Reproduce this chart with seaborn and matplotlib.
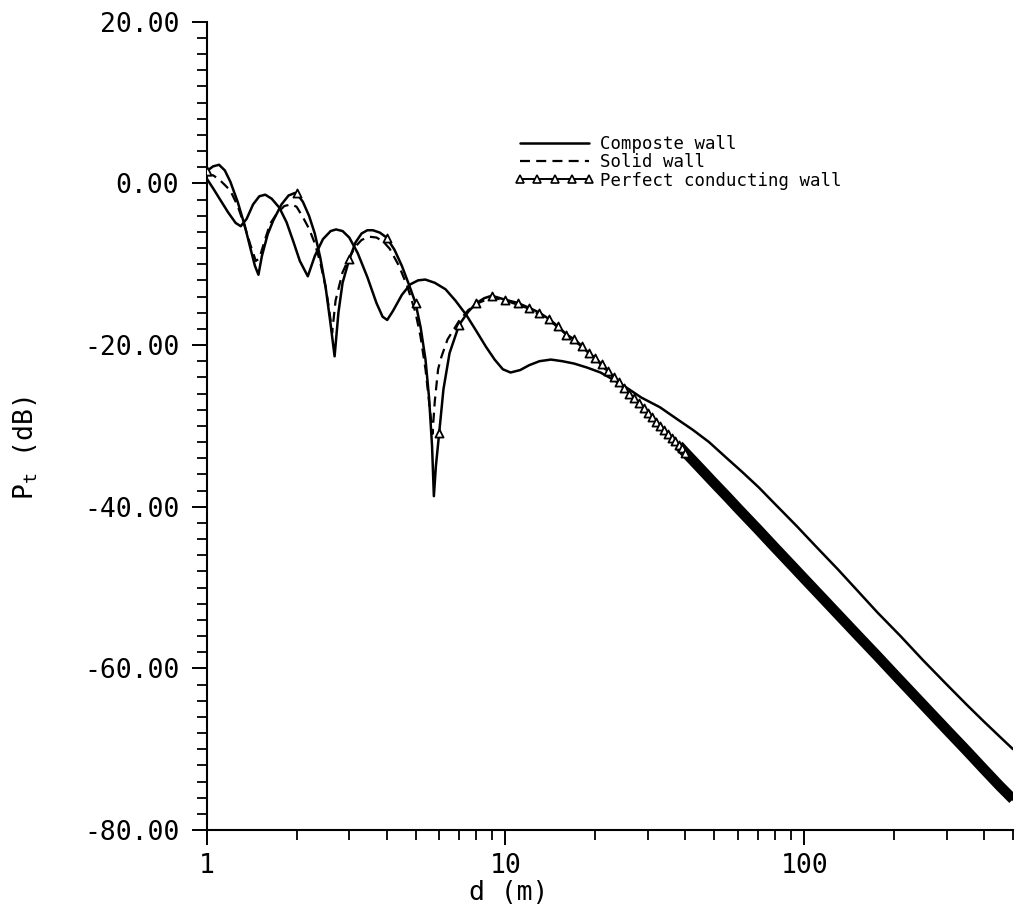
import numpy as np
import pandas as pd
import matplotlib
matplotlib.use("Agg")
import matplotlib.pyplot as plt
import seaborn as sns
from matplotlib.ticker import FixedLocator, FixedFormatter, MultipleLocator, NullFormatter, FuncFormatter
from matplotlib.lines import Line2D

# ---------------- data ----------------
composite_d = [1.00, 1.05, 1.10, 1.18, 1.25, 1.30, 1.36, 1.43, 1.50, 1.57, 1.65, 1.75, 1.85, 1.95,
               2.05, 2.18, 2.30, 2.45, 2.60, 2.71, 2.85, 3.00, 3.20, 3.45, 3.70, 3.88, 4.02, 4.20,
               4.50, 4.80, 5.10, 5.39, 5.80, 6.30, 6.80, 7.40, 8.00, 8.60, 9.20, 9.80, 10.4, 11.2,
               12.0, 13.0, 14.2, 15.5, 17.0, 18.8, 20.8, 23.0, 25.5, 28.5, 32.9, 38.0, 42.4, 48.0,
               54.7, 62.0, 70.4, 80.0, 94.4, 110, 130, 150, 176, 210, 250, 300, 350, 400, 450, 500]
composite_db = [0.6, -0.6, -1.8, -3.6, -4.9, -5.3, -4.4, -2.6, -1.6, -1.4, -1.9, -3.0, -4.8, -7.2,
                -9.6, -11.5, -9.0, -6.9, -5.9, -5.7, -5.9, -6.7, -8.6, -11.6, -14.8, -16.5, -16.9, -15.8,
                -13.8, -12.5, -12.0, -11.9, -12.3, -13.1, -14.5, -16.3, -18.3, -20.2, -21.8, -23.0, -23.4, -23.1,
                -22.5, -22.0, -21.8, -22.0, -22.3, -22.8, -23.4, -24.3, -25.3, -26.5, -27.7, -29.3, -30.5, -32.0,
                -33.9, -35.7, -37.6, -39.7, -42.4, -45.0, -47.8, -50.3, -53.1, -56.0, -59.0, -62.0, -64.5, -66.6, -68.4, -70.0]

solid_d = [1.00, 1.05, 1.10, 1.15, 1.20, 1.27, 1.34, 1.40, 1.46, 1.50, 1.56, 1.63, 1.72, 1.82, 1.92,
           2.00, 2.10, 2.20, 2.30, 2.40, 2.50, 2.57, 2.63, 2.70, 2.85, 3.00, 3.15, 3.30, 3.50, 3.70,
           3.90, 4.10, 4.40, 4.70, 5.00, 5.20, 5.40, 5.55, 5.70, 5.80, 5.95, 6.10, 6.40, 7.00, 7.50,
           8.0, 9.0, 10, 12, 14, 16, 18, 20, 22, 25, 30, 40, 50, 70, 100, 150, 200, 300, 500]
solid_db = [1.0, 1.0, 0.5, -0.2, -0.9, -2.8, -5.3, -7.6, -9.6, -9.3, -7.2, -5.0, -3.7, -2.8, -2.6,
            -2.9, -4.2, -5.6, -7.4, -9.8, -12.8, -15.6, -18.5, -14.5, -11.0, -9.2, -7.8, -7.0, -6.6, -6.7,
            -7.2, -8.1, -10.2, -12.8, -16.0, -19.0, -23.0, -27.0, -31.0, -27.0, -23.0, -21.5, -19.3, -17.0, -15.7,
            -14.9, -14.1, -14.5, -15.5, -16.9, -18.7, -20.2, -21.7, -23.3, -25.4, -28.5, -33.4, -37.2, -42.9, -49.0,
            -55.9, -60.8, -67.7, -76.3]

perfect_d = [1.00, 1.05, 1.10, 1.15, 1.20, 1.27, 1.34, 1.40, 1.45, 1.49, 1.53, 1.60, 1.67, 1.78, 1.88,
             1.97, 2.00, 2.10, 2.20, 2.30, 2.40, 2.50, 2.60, 2.68, 2.76, 2.85, 3.00, 3.15, 3.30, 3.45,
             3.60, 3.80, 4.00, 4.25, 4.50, 4.75, 5.00, 5.20, 5.40, 5.55, 5.68, 5.76, 5.85, 6.00, 6.20,
             6.50, 7.00, 7.50, 8.00, 8.50, 9.00, 10, 11, 12, 13, 14, 15, 16, 17, 18, 19, 20, 21, 22,
             23, 24, 25, 26, 27, 28, 29, 30, 32, 34, 36, 38, 40, 45, 50, 55, 60, 70, 80, 90, 100,
             120, 150, 176, 200, 250, 300, 350, 400, 450, 500]
perfect_db = [1.5, 2.1, 2.3, 1.6, 0.2, -2.3, -5.2, -8.0, -10.2, -11.3, -9.0, -6.3, -4.6, -2.6, -1.5,
              -1.2, -1.2, -2.3, -4.0, -6.2, -9.2, -12.8, -17.5, -21.4, -16.0, -12.3, -9.4, -7.3, -6.2, -5.8,
              -5.8, -6.1, -6.7, -8.2, -10.2, -12.5, -14.8, -17.8, -21.8, -26.5, -32.5, -38.7, -35.0, -30.9, -25.5,
              -21.0, -17.5, -15.9, -14.8, -14.2, -13.9, -14.4, -14.8, -15.4, -16.0, -16.8, -17.7, -18.7, -19.3, -20.1, -21.0, -21.6, -22.4, -23.2,
              -23.9, -24.6, -25.3, -26.0, -26.6, -27.2, -27.8, -28.4, -29.5, -30.5, -31.5, -32.4, -33.3, -35.3, -37.1, -38.7, -40.2, -42.8, -45.1, -47.1, -48.9,
              -52.0, -55.8, -58.5, -60.7, -64.5, -67.6, -70.2, -72.5, -74.5, -76.2]

# triangle markers of the perfect-conducting curve (one per metre)
marker_d = list(range(1, 41))
marker_db = [1.5, -1.2, -9.4, -6.7, -14.8, -30.9, -17.5, -14.8, -13.9, -14.4,
             -14.8, -15.4, -16.0, -16.8, -17.7, -18.7, -19.3, -20.1, -21.0, -21.6,
             -22.4, -23.2, -23.9, -24.6, -25.3, -26.0, -26.6, -27.2, -27.8, -28.4,
             -28.9, -29.5, -30.0, -30.5, -31.0, -31.5, -31.9, -32.4, -32.8, -33.3]

labels = ["Composte wall", "Solid wall", "Perfect conducting wall"]
x_major = [1, 10, 100]
x_major_labels = ["1", "10", "100"]
x_minor = [2, 3, 4, 5, 6, 7, 8, 9, 20, 30, 40, 50, 60, 70, 80, 90, 200, 300, 400, 500]

# ---------------- style ----------------
sns.set_theme(style="ticks")
plt.rcParams['font.family'] = ['DejaVu Sans Mono', 'DejaVu Sans']
plt.rcParams['axes.unicode_minus'] = False
plt.rcParams['axes.edgecolor'] = 'black'
plt.rcParams['axes.labelcolor'] = 'black'
plt.rcParams['xtick.color'] = 'black'
plt.rcParams['ytick.color'] = 'black'
plt.rcParams['text.color'] = 'black'

fig = plt.figure(figsize=(10.15, 9.14), dpi=100)
ax = fig.add_axes([206.7 / 1015, 1 - 830 / 914, 806.3 / 1015, 808.3 / 914])
ax.set_xscale('log')

comp = pd.DataFrame({"d": composite_d, "P": composite_db})
solid = pd.DataFrame({"d": solid_d, "P": solid_db})
perf = pd.DataFrame({"d": perfect_d, "P": perfect_db})
marks = pd.DataFrame({"d": marker_d, "P": marker_db})

LW = 1.8
sns.lineplot(data=comp, x="d", y="P", ax=ax, color="black", lw=LW, legend=False)
sns.lineplot(data=solid, x="d", y="P", ax=ax, color="black", lw=1.6, legend=False)
ax.lines[-1].set_dashes((4.5, 2.8))
sns.lineplot(data=perf, x="d", y="P", ax=ax, color="black", lw=LW, legend=False)
# dense overlapping markers beyond ~40 m appear as a thick band
sns.lineplot(data=perf[perf["d"] >= 38], x="d", y="P", ax=ax, color="black", lw=7.5,
             legend=False, solid_capstyle="butt")
sns.scatterplot(data=marks, x="d", y="P", ax=ax, marker="^", s=34, facecolor="white",
                edgecolor="black", linewidth=1.3, zorder=5, legend=False)

ax.set_xlim(1, 500)
ax.set_ylim(-80, 20)
ax.xaxis.set_major_locator(FixedLocator(x_major))
ax.xaxis.set_major_formatter(FixedFormatter(x_major_labels))
ax.xaxis.set_minor_locator(FixedLocator(x_minor))
ax.xaxis.set_minor_formatter(NullFormatter())
ax.yaxis.set_major_locator(MultipleLocator(20))
ax.yaxis.set_minor_locator(MultipleLocator(2))
ax.yaxis.set_major_formatter(FuncFormatter(lambda v, p: f"{v:.2f}"))

ax.tick_params(axis='both', which='major', direction='out', length=10.8, width=1.4, labelsize=19)
ax.tick_params(axis='both', which='minor', direction='out', length=7.2, width=1.3)
ax.tick_params(axis='y', which='major', pad=9)
ax.tick_params(axis='x', which='major', pad=6)

sns.despine(ax=ax)
for s in ["left", "bottom"]:
    ax.spines[s].set_linewidth(1.5)
    ax.spines[s].set_color("black")

ax.set_xlabel("d (m)", fontsize=19)
ax.set_ylabel(r"$\mathregular{P_t}$ (dB)", fontsize=19)
ax.xaxis.set_label_coords(0.374, -0.062)
ax.yaxis.set_label_coords(-0.207, 0.473)

h1 = Line2D([], [], color="black", lw=LW)
h2 = Line2D([], [], color="black", lw=1.6, dashes=(4.5, 2.8))
h3 = Line2D([], [], color="black", lw=1.4, marker="^", ms=5.5, mfc="white", mec="black", mew=1.2)
leg = ax.legend([h1, h2, h3], labels, loc="upper left", bbox_to_anchor=(0.382, 0.86),
                frameon=False, fontsize=12.5, handlelength=4.6, handletextpad=0.3,
                labelspacing=0.02, numpoints=5, borderaxespad=0, borderpad=0)

fig.savefig("out.png", dpi=100, facecolor="white")
